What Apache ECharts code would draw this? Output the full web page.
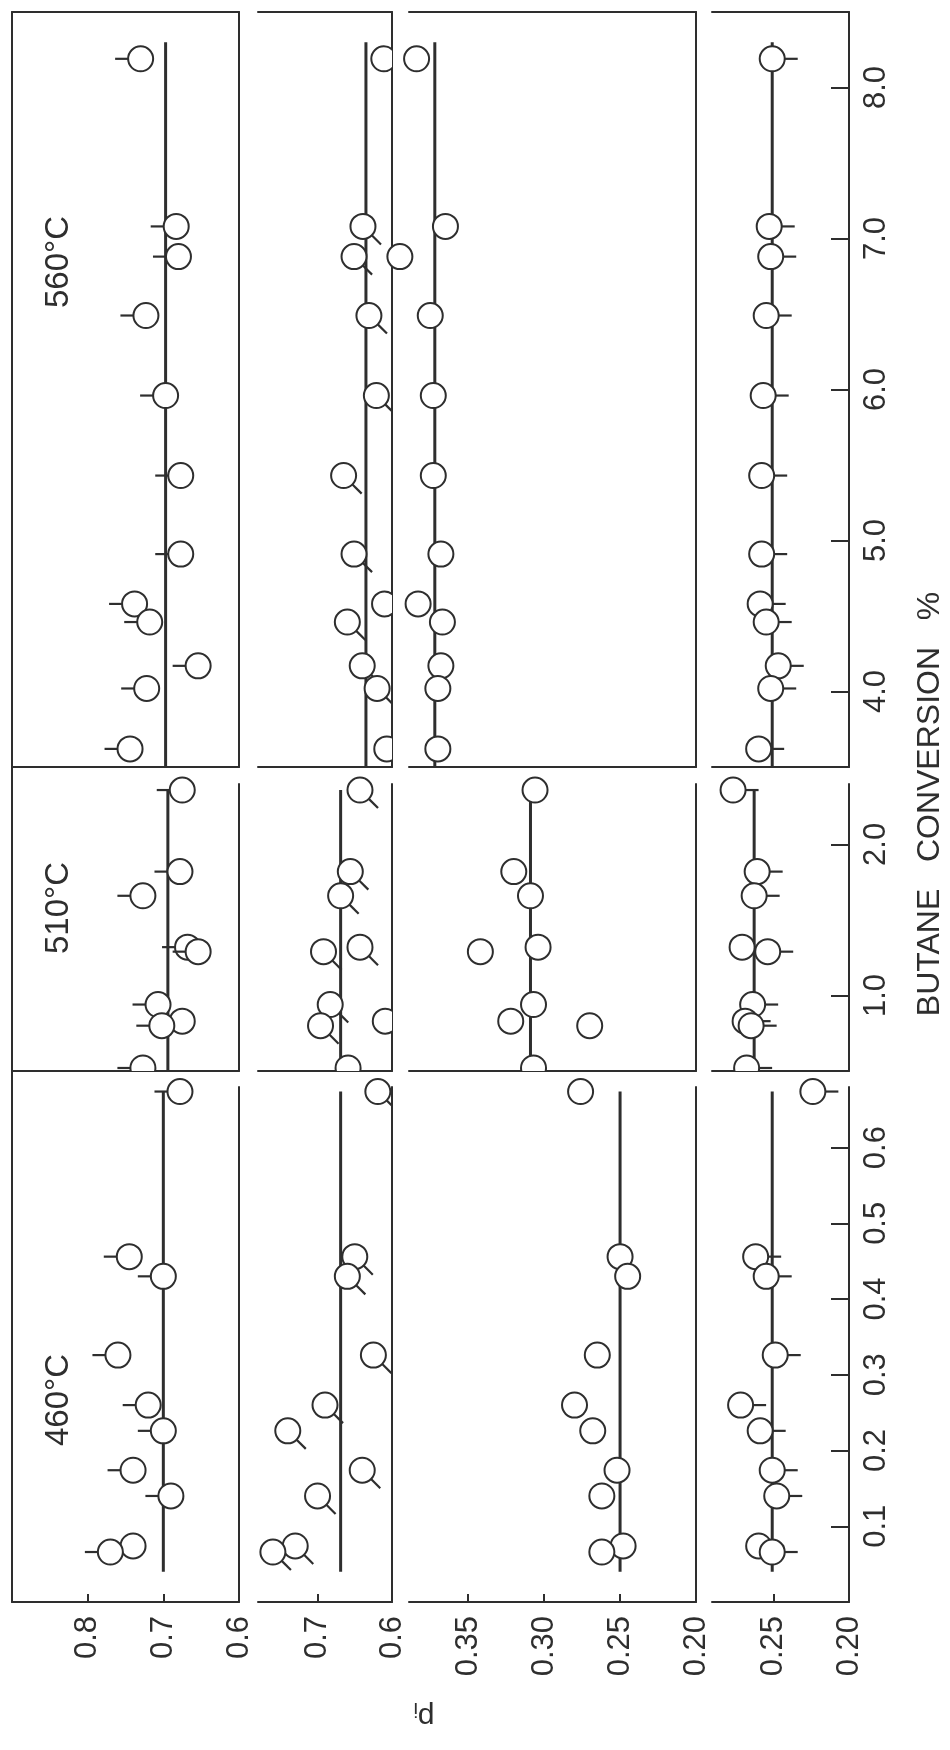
<!DOCTYPE html>
<html>
<head>
<meta charset="utf-8">
<script src="https://cdn.jsdelivr.net/npm/echarts@6/dist/echarts.min.js"></script>
<style>
  html, body { margin: 0; padding: 0; background: #ffffff; }
  #chart { width: 950px; height: 1750px; }
</style>
</head>
<body>
<div id="chart"></div>
<script>
// ---- data ---------------------------------------------------------------
// Butane conversion (%) of each run, one list per reactor temperature
const conv560 = [8.19, 7.08, 6.88, 6.49, 5.96, 5.43, 4.91, 4.58, 4.46, 4.17, 4.02, 3.62];
const conv510 = [2.36, 1.82, 1.66, 1.32, 1.29, 0.94, 0.83, 0.80, 0.52];
const conv460 = [0.674, 0.456, 0.43, 0.326, 0.26, 0.226, 0.174, 0.14, 0.074, 0.066];

// p_i of the four products, per temperature (same run order as above)
const p1at560 = [0.730, 0.683, 0.680, 0.723, 0.697, 0.677, 0.677, 0.738, 0.718, 0.654, 0.722, 0.744];
const p2at560 = [0.611, 0.639, 0.651, 0.631, 0.621, 0.665, 0.651, 0.610, 0.660, 0.640, 0.620, 0.607];
const p3at560 = [0.384, 0.365, 0.395, 0.375, 0.373, 0.373, 0.368, 0.383, 0.367, 0.368, 0.370, 0.370];
const p4at560 = [0.251, 0.253, 0.252, 0.255, 0.257, 0.258, 0.258, 0.259, 0.255, 0.247, 0.252, 0.260];

const p1at510 = [0.675, 0.678, 0.727, 0.668, 0.654, 0.707, 0.675, 0.702, 0.727];
const p2at510 = [0.643, 0.656, 0.669, 0.643, 0.692, 0.683, 0.609, 0.696, 0.659];
const p3at510 = [0.306, 0.320, 0.309, 0.304, 0.342, 0.307, 0.322, 0.270, 0.307];
const p4at510 = [0.277, 0.261, 0.263, 0.271, 0.254, 0.264, 0.269, 0.265, 0.268];

const p1at460 = [0.678, 0.745, 0.700, 0.760, 0.720, 0.700, 0.740, 0.690, 0.740, 0.770];
const p2at460 = [0.619, 0.650, 0.660, 0.625, 0.690, 0.740, 0.640, 0.700, 0.730, 0.760];
const p3at460 = [0.276, 0.250, 0.245, 0.265, 0.280, 0.268, 0.252, 0.262, 0.248, 0.262];
const p4at460 = [0.224, 0.262, 0.255, 0.249, 0.272, 0.259, 0.251, 0.248, 0.260, 0.251];

// Mean p_i drawn as a vertical line in each panel (products 1..4)
const mean560 = [0.697, 0.635, 0.372, 0.251];
const mean510 = [0.694, 0.669, 0.309, 0.263];
const mean460 = [0.700, 0.669, 0.250, 0.251];
// Conversion range covered by those mean lines
const span560 = [3.5, 8.3];
const span510 = [0.5, 2.36];
const span460 = [0.04, 0.674];

// Tick labels
const convTicks560 = [4, 5, 6, 7, 8];
const convTicks510 = [1, 2];
const convTicks460 = [0.1, 0.2, 0.3, 0.4, 0.5, 0.6];
const pTicks1 = [0.8, 0.7, 0.6];
const pTicks2 = [0.7, 0.6];
const pTicks3 = [0.35, 0.30, 0.25, 0.20];
const pTicks4 = [0.25, 0.20];

const tempLabels = ['560°C', '510°C', '460°C'];

// ---- layout --------------------------------------------------------------
const colBox = [[12, 239], [258, 392], [409, 696], [712, 849]];
const rowBox = [[12, 767], [784, 1071], [1087, 1602]];
const colRange = [[0.6, 0.9], [0.6, 0.78], [0.2, 0.389], [0.2, 0.291]];
const rowRange = [[3.5, 8.5], [0.5, 2.4], [0, 0.68]];
const colDigits = [1, 1, 2, 2];
const pTicks = [pTicks1, pTicks2, pTicks3, pTicks4];
const convTicks = [convTicks560, convTicks510, convTicks460];
const convs = [conv560, conv510, conv460];
const pValues = [
  [p1at560, p2at560, p3at560, p4at560],
  [p1at510, p2at510, p3at510, p4at510],
  [p1at460, p2at460, p3at460, p4at460]
];
const means = [mean560, mean510, mean460];
const spans = [span560, span510, span460];

// pip direction of the open-circle symbol used for each product
const S = Math.SQRT1_2;
const pipDir = [[-1, 0], [S, S], null, [1, 0]];

const INK = '#2e2e2e';
const FONT = 'Liberation Sans';
const LABEL_SIZE = 31;

function makePip(dir) {
  return function (params, api) {
    const p = api.coord([api.value(0), api.value(1)]);
    const cs = params.coordSys;
    const r = 12.5;
    const kids = [];
    if (dir) {
      kids.push({
        type: 'line',
        shape: { x1: p[0] + dir[0] * r, y1: p[1] + dir[1] * r,
                 x2: p[0] + dir[0] * (r + 13), y2: p[1] + dir[1] * (r + 13) },
        style: { stroke: INK, lineWidth: 2.2 }
      });
    }
    kids.push({
      type: 'circle',
      shape: { cx: p[0], cy: p[1], r: r },
      style: { fill: '#ffffff', stroke: INK, lineWidth: 2 }
    });
    return {
      type: 'group',
      children: kids,
      clipPath: { type: 'rect', shape: { x: cs.x - 80, y: cs.y - 24, width: cs.width + 80, height: cs.height + 24 } }
    };
  };
}

const grid = [], xAxis = [], yAxis = [], series = [];

for (let r = 0; r < 3; r++) {
  for (let c = 0; c < 4; c++) {
    const gi = grid.length;
    grid.push({
      left: colBox[c][0], top: rowBox[r][0],
      width: colBox[c][1] - colBox[c][0], height: rowBox[r][1] - rowBox[r][0]
    });
    const bottomRow = r === 2;
    xAxis.push({
      gridIndex: gi, type: 'value', inverse: true, position: 'bottom',
      min: colRange[c][0], max: colRange[c][1],
      splitLine: { show: false },
      axisLine: { show: true, onZero: false, lineStyle: { color: INK, width: 2 } },
      axisTick: { show: bottomRow, inside: true, length: 8, customValues: pTicks[c],
                  lineStyle: { color: INK, width: 2 } },
      axisLabel: { show: bottomRow, customValues: pTicks[c], rotate: 90, margin: 14,
                   color: INK, fontFamily: FONT, fontSize: LABEL_SIZE,
                   formatter: v => v.toFixed(colDigits[c]) }
    });
    if (r === 0) {
      // closing line along the top of the upper panels
      xAxis.push({
        gridIndex: gi, type: 'value', inverse: true, position: 'top',
        min: colRange[c][0], max: colRange[c][1],
        splitLine: { show: false }, axisTick: { show: false }, axisLabel: { show: false },
        axisLine: { show: true, onZero: false, lineStyle: { color: INK, width: 2 } }
      });
    }
    const lastCol = c === 3;
    yAxis.push({
      gridIndex: gi, type: 'value', position: 'right',
      min: rowRange[r][0], max: rowRange[r][1],
      splitLine: { show: false },
      axisLine: { show: true, onZero: false, lineStyle: { color: INK, width: 2 } },
      axisTick: { show: lastCol, inside: true, length: 18, customValues: convTicks[r],
                  lineStyle: { color: INK, width: 2 } },
      axisLabel: { show: lastCol, customValues: convTicks[r], rotate: 90, margin: 12,
                   color: INK, fontFamily: FONT, fontSize: LABEL_SIZE,
                   formatter: v => v.toFixed(1) }
    });
    const xi = xAxis.length - (r === 0 ? 2 : 1);
    const yi = yAxis.length - 1;

    series.push({
      type: 'line', xAxisIndex: xi, yAxisIndex: yi, symbol: 'none', silent: true,
      data: [[means[r][c], spans[r][0]], [means[r][c], spans[r][1]]],
      lineStyle: { color: INK, width: 3 }, z: 2
    });
    const pts = [];
    convs[r].forEach((cv, i) => {
      const pv = pValues[r][c][i];
      if (pv != null) pts.push([pv, cv]);
    });
    series.push({
      type: 'custom', xAxisIndex: xi, yAxisIndex: yi, clip: false, silent: true,
      renderItem: makePip(pipDir[c]), data: pts, z: 5
    });
  }
}

// full-height left frame line of the first product column
const frameGrid = grid.length;
grid.push({ left: colBox[0][0], top: rowBox[0][0], width: colBox[0][1] - colBox[0][0],
            height: rowBox[2][1] - rowBox[0][0] });
xAxis.push({ gridIndex: frameGrid, type: 'value', show: false, min: 0, max: 1 });
yAxis.push({ gridIndex: frameGrid, type: 'value', position: 'left', min: 0, max: 1,
             splitLine: { show: false }, axisTick: { show: false }, axisLabel: { show: false },
             axisLine: { show: true, onZero: false, lineStyle: { color: INK, width: 2 } } });

const tempY = [262, 908, 1400];
const graphic = tempLabels.map((t, i) => ({
  type: 'text', x: 59, y: tempY[i], rotation: Math.PI / 2,
  style: { text: t, fill: INK, font: '33px "' + FONT + '"', align: 'center', verticalAlign: 'middle' }
}));
graphic.push({
  type: 'text', x: 930, y: 804, rotation: Math.PI / 2,
  style: { text: 'BUTANE   CONVERSION   %', fill: INK, font: '32px "' + FONT + '"',
           align: 'center', verticalAlign: 'middle' }
});
graphic.push({
  type: 'text', x: 424, y: 1716, rotation: Math.PI,
  style: {
    text: '{p|p}{s|i}', fill: INK, align: 'center', verticalAlign: 'middle',
    rich: {
      p: { fontFamily: FONT, fontSize: 30, fill: INK },
      s: { fontFamily: FONT, fontSize: 20, fill: INK, padding: [14, 0, 0, 0] }
    }
  }
});

const chart = echarts.init(document.getElementById('chart'), null, { renderer: 'canvas' });
chart.setOption({
  backgroundColor: '#ffffff',
  animation: false,
  grid: grid, xAxis: xAxis, yAxis: yAxis, series: series, graphic: graphic
});
</script>
</body>
</html>
